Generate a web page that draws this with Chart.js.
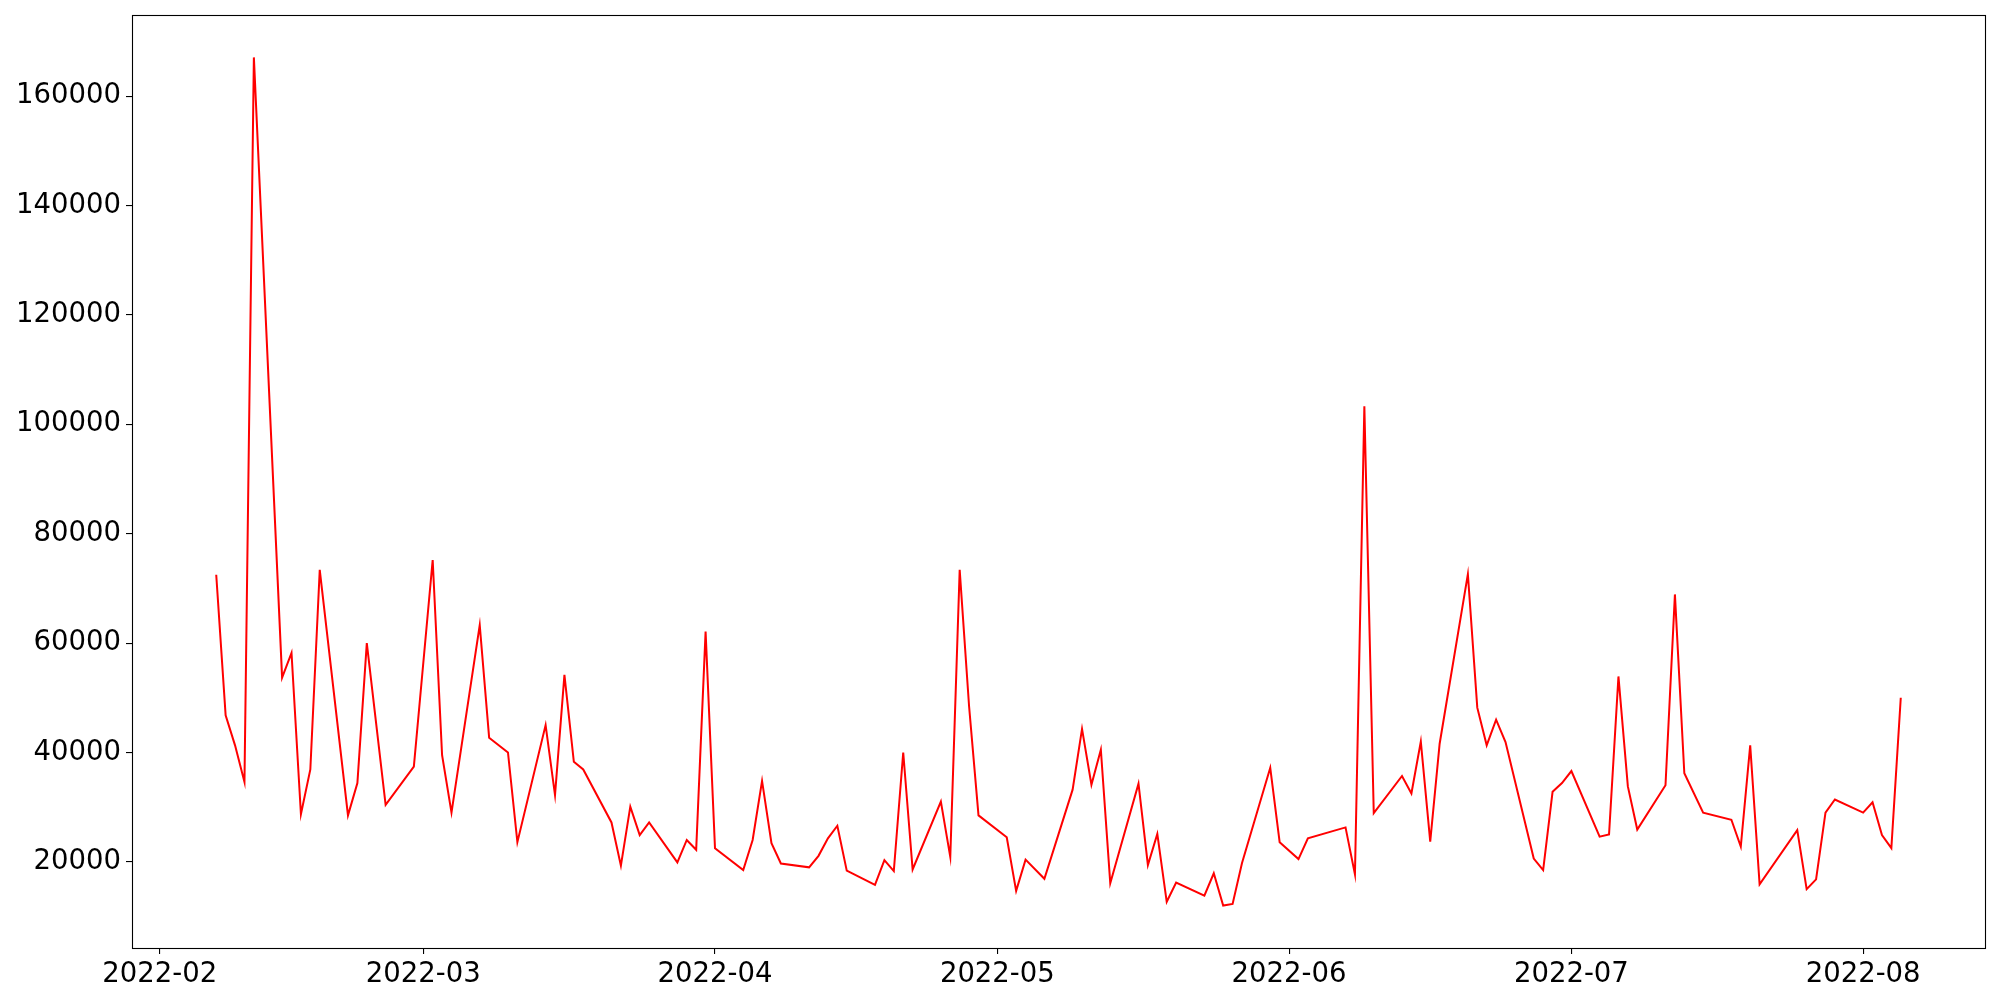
<!DOCTYPE html>
<html>
<head>
<meta charset="utf-8">
<script src="https://cdn.jsdelivr.net/npm/chart.js@4.4.1/dist/chart.umd.min.js"></script>
<style>
  html, body { margin: 0; padding: 0; background: #fff; }
  canvas { display: block; }
</style>
</head>
<body>
<canvas id="chart" width="2000" height="1000"></canvas>
<script>
const dates = [
  "2022-02-07", "2022-02-08", "2022-02-09", "2022-02-10", "2022-02-11", "2022-02-14",
  "2022-02-15", "2022-02-16", "2022-02-17", "2022-02-18", "2022-02-21", "2022-02-22",
  "2022-02-23", "2022-02-25", "2022-02-28", "2022-03-02", "2022-03-03", "2022-03-04",
  "2022-03-07", "2022-03-08", "2022-03-10", "2022-03-11", "2022-03-14", "2022-03-15",
  "2022-03-16", "2022-03-17", "2022-03-18", "2022-03-21", "2022-03-22", "2022-03-23",
  "2022-03-24", "2022-03-25", "2022-03-28", "2022-03-29", "2022-03-30", "2022-03-31",
  "2022-04-01", "2022-04-04", "2022-04-05", "2022-04-06", "2022-04-07", "2022-04-08",
  "2022-04-11", "2022-04-12", "2022-04-13", "2022-04-14", "2022-04-15", "2022-04-18",
  "2022-04-19", "2022-04-20", "2022-04-21", "2022-04-22", "2022-04-25", "2022-04-26",
  "2022-04-27", "2022-04-28", "2022-04-29", "2022-05-02", "2022-05-03", "2022-05-04",
  "2022-05-06", "2022-05-09", "2022-05-10", "2022-05-11", "2022-05-12", "2022-05-13",
  "2022-05-16", "2022-05-17", "2022-05-18", "2022-05-19", "2022-05-20", "2022-05-23",
  "2022-05-24", "2022-05-25", "2022-05-26", "2022-05-27", "2022-05-30", "2022-05-31",
  "2022-06-02", "2022-06-03", "2022-06-07", "2022-06-08", "2022-06-09", "2022-06-10",
  "2022-06-13", "2022-06-14", "2022-06-15", "2022-06-16", "2022-06-17", "2022-06-20",
  "2022-06-21", "2022-06-22", "2022-06-23", "2022-06-24", "2022-06-27", "2022-06-28",
  "2022-06-29", "2022-06-30", "2022-07-01", "2022-07-04", "2022-07-05", "2022-07-06",
  "2022-07-07", "2022-07-08", "2022-07-11", "2022-07-12", "2022-07-13", "2022-07-15",
  "2022-07-18", "2022-07-19", "2022-07-20", "2022-07-21", "2022-07-25", "2022-07-26",
  "2022-07-27", "2022-07-28", "2022-07-29", "2022-08-01", "2022-08-02", "2022-08-03",
  "2022-08-04", "2022-08-05",
];

const values = [
  72500, 46800, 41300, 34600, 167100, 53700,
  58200, 28700, 36900, 73400, 28500, 34400,
  60000, 30400, 37400, 75200, 39500, 29000,
  63300, 42700, 40000, 23600, 45000, 32200,
  54200, 38300, 36900, 27200, 19300, 30100,
  24900, 27200, 19900, 24000, 22200, 62100,
  22500, 18500, 24000, 34800, 23400, 19700,
  19000, 21100, 24300, 26600, 18400, 15800,
  20300, 18300, 40000, 18600, 31000, 20900,
  73400, 48400, 28500, 24500, 14700, 20400,
  16900, 33200, 44300, 34100, 40500, 16100,
  34300, 19400, 25100, 12700, 16200, 13800,
  17900, 12000, 12300, 19800, 37200, 23600,
  20500, 24300, 26300, 17700, 103300, 28900,
  35700, 32500, 42000, 23700, 41600, 72600,
  48200, 41300, 46000, 41900, 20600, 18500,
  32800, 34400, 36600, 24600, 25000, 53900,
  33800, 25900, 34000, 68900, 36200, 29000,
  27700, 22800, 41300, 15900, 25800, 15000,
  16800, 29000, 31400, 29000, 30900, 24900,
  22500, 50000,
];

const xTickLabels = ["2022-02", "2022-03", "2022-04", "2022-05", "2022-06", "2022-07", "2022-08"];
const yTickValues = [20000, 40000, 60000, 80000, 100000, 120000, 140000, 160000];

const DAY = 86400000;
const origin = Date.parse("2022-02-01");
const toDay = (s) => (Date.parse(s) - origin) / DAY;

const points = dates.map((d, i) => ({ x: toDay(d), y: values[i] }));
const xTickPos = xTickLabels.map((l) => toDay(l + "-01"));

// matplotlib-like 5% margins around the data
const xs = points.map((p) => p.x);
const xLo = Math.min(...xs), xHi = Math.max(...xs);
const yLo = Math.min(...values), yHi = Math.max(...values);
const xPad = (xHi - xLo) * 0.05, yPad = (yHi - yLo) * 0.05;

const tickFont = { family: "DejaVu Sans", size: 27.5 };

const frame = {
  id: "frame",
  afterDraw(chart) {
    const { ctx, chartArea: a } = chart;
    ctx.save();
    ctx.strokeStyle = "#000";
    ctx.lineWidth = 1.1;
    ctx.strokeRect(Math.round(a.left) + 0.5, Math.round(a.top) + 0.5,
      Math.round(a.right - a.left), Math.round(a.bottom - a.top));
    ctx.restore();
  },
};

new Chart(document.getElementById("chart"), {
  type: "line",
  data: {
    datasets: [
      {
        data: points,
        borderColor: "#ff0000",
        borderWidth: 2,
        pointRadius: 0,
        tension: 0,
        fill: false,
      },
    ],
  },
  options: {
    responsive: false,
    devicePixelRatio: 1,
    animation: false,
    layout: { padding: { top: 15, right: 15, left: 0, bottom: 0 } },
    plugins: { legend: { display: false }, tooltip: { enabled: false } },
    scales: {
      x: {
        type: "linear",
        min: xLo - xPad,
        max: xHi + xPad,
        afterBuildTicks: (scale) => {
          scale.ticks = xTickPos.map((v) => ({ value: v }));
        },
        afterFit: (scale) => {
          scale.height = 52;
          scale.paddingLeft = 0;
          scale.paddingRight = 0;
        },
        grid: { display: true, drawOnChartArea: false, drawTicks: true, tickLength: 6, color: "#000", lineWidth: 1.1 },
        border: { display: false },
        ticks: {
          color: "#000",
          font: tickFont,
          padding: 4,
          maxRotation: 0,
          autoSkip: false,
          callback: (v) => xTickLabels[xTickPos.indexOf(v)],
        },
      },
      y: {
        type: "linear",
        min: yLo - yPad,
        max: yHi + yPad,
        afterBuildTicks: (scale) => {
          scale.ticks = yTickValues.map((v) => ({ value: v }));
        },
        afterFit: (scale) => {
          scale.width = 132;
          scale.paddingTop = 0;
          scale.paddingBottom = 0;
        },
        grid: { display: true, drawOnChartArea: false, drawTicks: true, tickLength: 6, color: "#000", lineWidth: 1.1 },
        border: { display: false },
        ticks: {
          color: "#000",
          font: tickFont,
          padding: 5,
          autoSkip: false,
          callback: (v) => String(v),
        },
      },
    },
  },
  plugins: [frame],
});
</script>
</body>
</html>
